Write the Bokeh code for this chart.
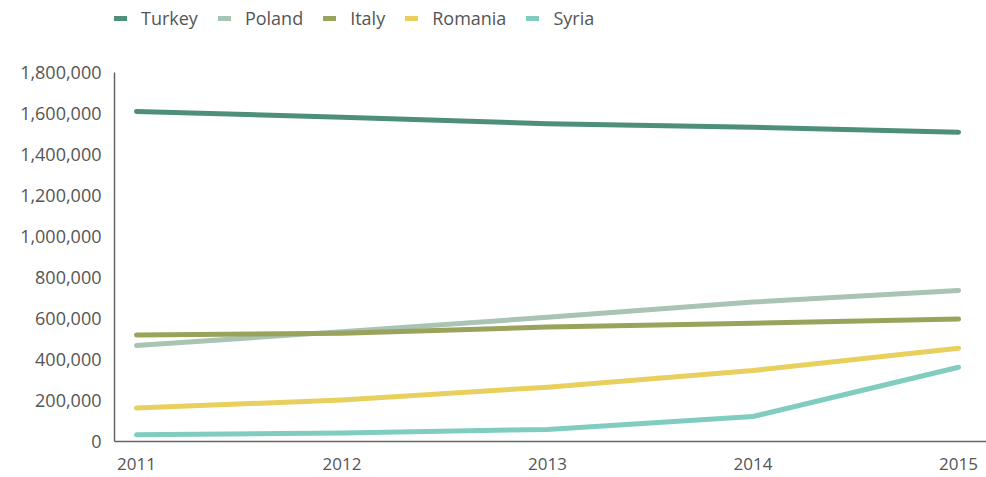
from bokeh.plotting import figure
from bokeh.models import Legend, LegendItem, FixedTicker, NumeralTickFormatter, Range1d
from bokeh.embed import file_html
from bokeh.resources import INLINE

years = [2011, 2012, 2013, 2014, 2015]
turkey = [1610000, 1582000, 1550000, 1533000, 1509000]
poland = [468000, 536000, 606000, 680000, 737000]
italy = [520000, 528000, 558000, 577000, 597000]
romania = [163000, 203000, 265000, 346000, 455000]
syria = [33000, 42000, 59000, 122000, 362000]
y_ticks = [0, 200000, 400000, 600000, 800000, 1000000, 1200000, 1400000, 1600000, 1800000]

series = [
    ("Turkey", turkey, "#4e8f77"),
    ("Poland", poland, "#a9c3b4"),
    ("Italy", italy, "#9aa35c"),
    ("Romania", romania, "#e9cf5d"),
    ("Syria", syria, "#80cdbf"),
]

FONT = "Open Sans"
TXT = "#555555"

# frame spans from the top of the canvas; y axis drawn only from 0 to 1.8M
y_top = 1800000 * 441 / 369

p = figure(width=986, height=477, output_backend="svg", toolbar_location=None,
           x_range=Range1d(2010.893, 2015.136), y_range=Range1d(0, y_top),
           min_border_left=114, min_border_right=0, min_border_top=0, min_border_bottom=36)
p.outline_line_color = None
p.xgrid.visible = False
p.ygrid.visible = False

items = []
for name, vals, col in series:
    r = p.line(years, vals, line_color=col, line_width=5, line_cap="round", line_join="round")
    items.append(LegendItem(label=name, renderers=[r]))

p.yaxis.ticker = FixedTicker(ticks=y_ticks)
p.yaxis.formatter = NumeralTickFormatter(format="0,0")
p.yaxis.bounds = (0, 1800000)
p.xaxis.ticker = FixedTicker(ticks=years)
for ax in (p.xaxis[0], p.yaxis[0]):
    ax.major_tick_line_color = None
    ax.minor_tick_line_color = None
    ax.major_tick_out = 0
    ax.major_tick_in = 0
    ax.minor_tick_out = 0
    ax.minor_tick_in = 0
    ax.axis_line_color = "#666666"
    ax.axis_line_width = 1.5
    ax.major_label_text_font = FONT
    ax.major_label_text_color = TXT
p.yaxis.major_label_text_font_size = "18px"
p.xaxis.major_label_text_font_size = "17px"
p.yaxis.major_label_standoff = 13
p.xaxis.major_label_standoff = 16

legend = Legend(items=items, orientation="horizontal", location=(0, 411),
                border_line_color=None, background_fill_alpha=0,
                padding=0, margin=0, spacing=20, glyph_width=13, glyph_height=20,
                label_height=20, label_standoff=14,
                label_text_font=FONT, label_text_color=TXT, label_text_font_size="18px")
p.add_layout(legend, "center")

open("out.html", "w").write(file_html(p, INLINE))
